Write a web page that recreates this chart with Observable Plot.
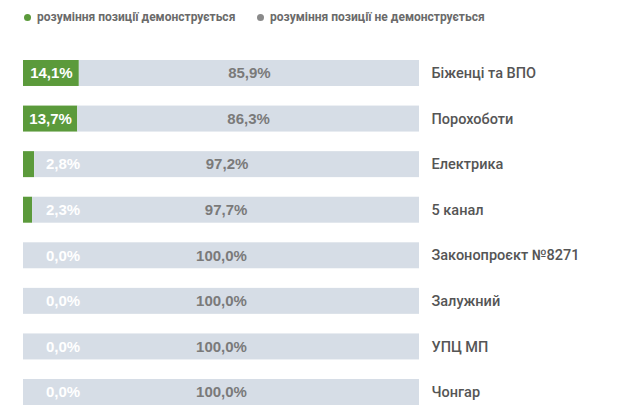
<!DOCTYPE html>
<html><head><meta charset="utf-8">
<script src="https://cdn.jsdelivr.net/npm/d3@7"></script>
<script src="https://cdn.jsdelivr.net/npm/@observablehq/plot@0.6"></script>
<style>
body{margin:0;background:#fff;font-family:"Liberation Sans",Arial,sans-serif;}
#legend{height:35px;position:relative;font-size:12px;color:#6a6a6a;font-weight:700;font-family:Roboto,"Liberation Sans",Arial,sans-serif}
#legend span.item{position:absolute;top:10px;display:flex;align-items:center;white-space:nowrap}
#legend i{display:inline-block;width:7px;height:7px;border-radius:50%;margin-right:6px}
</style></head><body>
<div id="legend"></div>
<div id="chart"></div>
<script>
const categories = ["Біженці та ВПО","Порохоботи","Електрика","5 канал","Законопроєкт №8271","Залужний","УПЦ МП","Чонгар"];
const shown = [14.1,13.7,2.8,2.3,0.0,0.0,0.0,0.0];
const notShown = [85.9,86.3,97.2,97.7,100.0,100.0,100.0,100.0];
const seriesNames = ["розуміння позиції демонструється","розуміння позиції не демонструється"];
const colors = ["#5b9a3b","#d6dde6"];
const legendDot = ["#5b9a3b","#8a8a8a"];

const fmt = v => v.toFixed(1).replace(".", ",") + "%";
const rows = [];
categories.forEach((c,i)=>{
  rows.push({cat:c, series:seriesNames[0], x1:0, x2:shown[i], v:shown[i]});
  rows.push({cat:c, series:seriesNames[1], x1:shown[i], x2:shown[i]+notShown[i], v:notShown[i]});
});
const greenRows = rows.filter(d=>d.series===seriesNames[0]);
const grayRows = rows.filter(d=>d.series===seriesNames[1]);

const lg = document.getElementById("legend");
const legendLeft = [24, 257];
seriesNames.forEach((s,i)=>{
  const el = document.createElement("span"); el.className="item";
  el.style.left = legendLeft[i] + "px";
  el.innerHTML = `<i style="background:${legendDot[i]}"></i>${s}`;
  lg.appendChild(el);
});

const chart = Plot.plot({
  width:625, height:384,
  marginLeft:23, marginRight:206, marginTop:25, marginBottom:14,
  x:{domain:[0,100], axis:null},
  y:{domain:categories, axis:null, padding:0.43, paddingOuter:0, align:0, round:false},
  color:{domain:seriesNames, range:colors},
  marks:[
    Plot.barX(rows,{y:"cat", x1:"x1", x2:"x2", fill:"series"}),
    Plot.text(greenRows,{y:"cat", x:d=> d.v<5 ? 10 : d.v/2, text:d=>fmt(d.v), fill:"#fff", fontSize:15, fontWeight:"bold", fontFamily:"Liberation Sans, Arial, sans-serif"}),
    Plot.text(grayRows,{y:"cat", x:d=> d.x1 + d.v/2, text:d=>fmt(d.v), fill:"#7a7a7a", fontSize:15, fontWeight:"bold", fontFamily:"Liberation Sans, Arial, sans-serif"}),
    Plot.text(categories,{y:d=>d, x:100, text:d=>d, textAnchor:"start", dx:12, fill:"#555", fontSize:14.5, fontWeight:500, fontFamily:"Roboto, sans-serif"})
  ]
});
document.getElementById("chart").appendChild(chart);
</script>
</body></html>
